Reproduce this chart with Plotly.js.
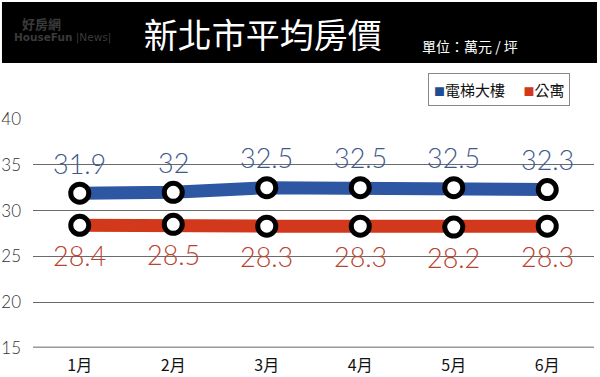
<!DOCTYPE html>
<html>
<head>
<meta charset="utf-8">
<script src="https://cdn.plot.ly/plotly-3.0.1.min.js"></script>
<style>
html,body{margin:0;padding:0;background:#fff;}
#chart{width:600px;height:377px;}
</style>
</head>
<body>
<div id="chart"></div>
<script>
// ---- data ----
const months = ["1月", "2月", "3月", "4月", "5月", "6月"];
const elevatorName = "電梯大樓";
const elevatorValues = [31.9, 32, 32.5, 32.5, 32.5, 32.3];
const apartmentName = "公寓";
const apartmentValues = [28.4, 28.5, 28.3, 28.3, 28.2, 28.3];
const yTicks = [15, 20, 25, 30, 35, 40];
const chartTitle = "新北市平均房價";
const unitText = "單位：萬元 / 坪";

// ---- styles ----
const blue = "#2d56a3";
const red = "#d2381b";
const blueKey = "#1f4c94";
const blueText = "#40598a";
const redText = "#b8432f";
const cjk = "'Noto Sans CJK TC', 'Noto Sans', sans-serif";
const numFont = "Lato, 'Open Sans', sans-serif";

function lineTrace(name, vals, color) {
  return {
    x: months, y: vals, name: name, type: "scatter", mode: "lines+markers",
    line: {color: color, width: 13},
    marker: {size: 18, color: "#fff", line: {color: "#000", width: 5}},
    showlegend: false, hoverinfo: "skip", cliponaxis: false
  };
}
function labelAnnotations(vals, color, shift) {
  return vals.map((v, i) => ({
    x: months[i], y: v, xref: "x", yref: "y", text: String(v), showarrow: false,
    yshift: shift, yanchor: "middle", xanchor: "center",
    font: {family: numFont, size: 27, color: color, weight: 300}
  }));
}
function key(color, name) {
  return "<span style='color:" + color + ";font-size:11px'>■</span>" + name;
}

const data = [
  lineTrace(elevatorName, elevatorValues, blue),
  lineTrace(apartmentName, apartmentValues, red)
];

const layout = {
  width: 600, height: 377,
  margin: {l: 33, r: 6, t: 119, b: 29},
  paper_bgcolor: "#fff", plot_bgcolor: "#fff",
  showlegend: false,
  title: {
    text: chartTitle, x: 0.438, xanchor: "center", y: 0.903, yanchor: "middle",
    font: {family: cjk, size: 34, color: "#fff"}
  },
  xaxis: {
    type: "category", range: [-0.5, 5.5], showgrid: false, zeroline: false,
    showline: false, ticks: "", ticklabelstandoff: 6,
    tickfont: {family: cjk, size: 16, color: "#111"},
    fixedrange: true
  },
  yaxis: {
    range: [15, 40], tickvals: yTicks, ticktext: yTicks.map(String),
    showgrid: true, gridcolor: "#6a6a6a", gridwidth: 1, zeroline: false,
    showline: false, ticks: "", ticklabelstandoff: 11,
    tickfont: {family: numFont, size: 17, color: "#333", weight: 300}, fixedrange: true
  },
  shapes: [
    {type: "rect", xref: "paper", yref: "paper", x0: -0.0553, x1: 1.0053, y0: 1.2445, y1: 1.511,
     fillcolor: "#000", line: {width: 0}, layer: "below"},
    {type: "line", xref: "paper", yref: "y", x0: 0, x1: 1, y0: 15, y1: 15,
     line: {color: "#9a9a9a", width: 3}, layer: "below"}
  ],
  annotations: [
    {text: unitText, xref: "paper", yref: "paper", x: 0.69, xanchor: "left", y: 1.319, yanchor: "middle",
     showarrow: false, font: {family: cjk, size: 14, color: "#fff"}},
    {text: "<b>好房網</b>", xref: "paper", yref: "paper", x: -0.0215, xanchor: "left", y: 1.369, yanchor: "bottom",
     showarrow: false, borderpad: 0, font: {family: cjk, size: 13, color: "#3a3a3a"}},
    {text: "<b>HouseFun</b> |News|", xref: "paper", yref: "paper", x: -0.036, xanchor: "left", y: 1.388, yanchor: "top",
     showarrow: false, borderpad: 0, font: {family: "'DejaVu Sans', sans-serif", size: 10.5, color: "#3a3a3a"}},
    {text: key(blueKey, elevatorName) + "　 " + key(red, apartmentName),
     xref: "paper", yref: "paper", x: 0.957, xanchor: "right", y: 1.127, yanchor: "middle",
     showarrow: false, bgcolor: "#fff", bordercolor: "#888", borderwidth: 1, borderpad: 5,
     font: {family: cjk, size: 15, color: "#111"}}
  ].concat(labelAnnotations(elevatorValues, blueText, 30))
   .concat(labelAnnotations(apartmentValues, redText, -30))
};

Plotly.newPlot("chart", data, layout, {displayModeBar: false, staticPlot: true});
</script>
</body>
</html>
